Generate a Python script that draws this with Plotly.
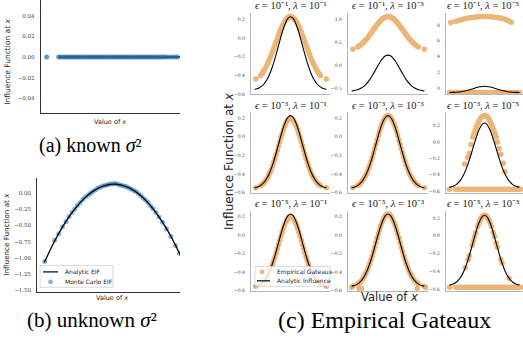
import plotly.graph_objects as go

W, H = 523, 343

# ---------------- data ----------------
# (a) known sigma^2
A_LINE_X = [-2.55, 2.6]
A_LINE_Y = [0.0, 0.0]
A_PTS_X = [-3.05, -2.55, -2.45, -2.35, -2.25, -2.15, -2.05, -1.95, -1.85, -1.75, -1.65, -1.55,
           -1.45, -1.35, -1.25, -1.15, -1.05, -0.95, -0.85, -0.75, -0.65, -0.55, -0.45, -0.35,
           -0.25, -0.15, -0.05, 0.05, 0.15, 0.25, 0.35, 0.45, 0.55, 0.65, 0.75, 0.85, 0.95,
           1.05, 1.15, 1.25, 1.35, 1.45, 1.55, 1.65, 1.75, 1.85, 1.95, 2.1, 2.25, 2.38]
A_PTS_Y = [0.0, 0.0, 0.0, 0.0, 0.0, 0.0, 0.0, 0.0, 0.0, 0.0, 0.0, 0.0, 0.0, 0.0, 0.0, 0.0, 0.0,
           0.0, 0.0, 0.0, 0.0, 0.0, 0.0, 0.0, 0.0, 0.0, 0.0, 0.0, 0.0, 0.0, 0.0, 0.0, 0.0, 0.0,
           0.0, 0.0, 0.0, 0.0, 0.0, 0.0, 0.0, 0.0, 0.0, 0.0, 0.0, 0.0, 0.0, 0.0, 0.0, 0.0]

# (b) unknown sigma^2
B_LINE_X = [-2.32, -2.0, -1.75, -1.5, -1.25, -1.0, -0.75, -0.5, -0.25, 0.0, 0.25, 0.5, 0.75,
            1.0, 1.25, 1.5, 1.75, 2.0, 2.32]
B_LINE_Y = [-1.071, -0.760, -0.549, -0.366, -0.212, -0.085, 0.013, 0.084, 0.126, 0.140, 0.126,
            0.084, 0.013, -0.085, -0.212, -0.366, -0.549, -0.760, -1.071]
B_PTS_X = [-2.31, -1.98, -1.84, -1.72, -1.60, -1.50, -1.40, -1.31, -1.22, -1.13, -1.04, -0.95,
           -0.86, -0.78, -0.70, -0.62, -0.54, -0.46, -0.38, -0.30, -0.22, -0.14, -0.06, 0.02,
           0.10, 0.18, 0.26, 0.34, 0.42, 0.50, 0.58, 0.66, 0.74, 0.82, 0.90, 0.98, 1.06, 1.14,
           1.22, 1.30, 1.40, 1.50, 1.62, 1.75, 1.90, 2.05, 2.18]
B_PTS_Y = [-1.06, -0.73, -0.63, -0.52, -0.44, -0.36, -0.30, -0.25, -0.19, -0.15, -0.10, -0.06,
           -0.03, 0.00, 0.03, 0.05, 0.08, 0.09, 0.11, 0.12, 0.13, 0.14, 0.14, 0.15, 0.14, 0.13,
           0.12, 0.11, 0.10, 0.08, 0.06, 0.04, 0.02, -0.01, -0.04, -0.08, -0.11, -0.15, -0.20,
           -0.24, -0.30, -0.37, -0.45, -0.55, -0.67, -0.81, -0.93]
LEGEND_B = ["Analytic EIF", "Monte Carlo EIF"]

# (c) empirical Gateaux grid
EPS_EXP = ["⁻¹", "⁻³", "⁻⁵"]          # rows
LAM_EXP = ["⁻¹", "⁻³", "⁻⁵"]          # columns
LEGEND_C = ["Empirical Gateaux", "Analytic Influence"]

GRID_X = [-3.0, -2.8, -2.6, -2.4, -2.2, -2.0, -1.8, -1.6, -1.4, -1.2, -1.0, -0.8, -0.6, -0.4,
          -0.2, 0.0, 0.2, 0.4, 0.6, 0.8, 1.0, 1.2, 1.4, 1.6, 1.8, 2.0, 2.2, 2.4, 2.6, 2.8, 3.0]
ANALYTIC_Y = [-0.551, -0.544, -0.533, -0.516, -0.490, -0.453, -0.404, -0.340, -0.264, -0.175,
              -0.081, 0.014, 0.100, 0.169, 0.214, 0.230, 0.214, 0.169, 0.100, 0.014, -0.081,
              -0.175, -0.264, -0.340, -0.404, -0.453, -0.490, -0.516, -0.533, -0.544, -0.551]

BAND_X = [-2.9, -2.5, -2.4, -2.3, -2.2, -2.1, -2.0, -1.9, -1.8, -1.7, -1.6, -1.5, -1.4, -1.3,
          -1.2, -1.1, -1.0, -0.9, -0.8, -0.7, -0.6, -0.5, -0.4, -0.3, -0.2, -0.1, 0.0, 0.1, 0.2,
          0.3, 0.4, 0.5, 0.6, 0.7, 0.8, 0.9, 1.0, 1.1, 1.2, 1.3, 1.4, 1.5, 1.6, 1.7, 1.8, 1.9,
          2.0, 2.1, 2.2, 2.3, 2.4, 2.5, 3.0]
R1C1_Y = [-0.44, -0.401, -0.384, -0.366, -0.345, -0.322, -0.297, -0.270, -0.241, -0.210, -0.178,
          -0.145, -0.110, -0.075, -0.040, -0.004, 0.030, 0.063, 0.095, 0.124, 0.151, 0.174, 0.194,
          0.209, 0.221, 0.228, 0.230, 0.228, 0.221, 0.209, 0.194, 0.174, 0.151, 0.124, 0.095,
          0.063, 0.030, -0.004, -0.040, -0.075, -0.110, -0.145, -0.178, -0.210, -0.241, -0.270,
          -0.297, -0.322, -0.345, -0.366, -0.384, -0.401, -0.44]
R1C2_Y = [0.36, 0.404, 0.422, 0.442, 0.464, 0.488, 0.514, 0.543, 0.573, 0.605, 0.639, 0.675,
          0.711, 0.748, 0.786, 0.823, 0.859, 0.894, 0.927, 0.958, 0.986, 1.011, 1.032, 1.048,
          1.060, 1.068, 1.070, 1.068, 1.060, 1.048, 1.032, 1.011, 0.986, 0.958, 0.927, 0.894,
          0.859, 0.823, 0.786, 0.748, 0.711, 0.675, 0.639, 0.605, 0.573, 0.543, 0.514, 0.488,
          0.464, 0.442, 0.422, 0.404, 0.36]
R1C3_UX = [-2.9, -2.5, -2.3, -2.1, -1.9, -1.7, -1.5, -1.3, -1.1, -0.9, -0.7, -0.5, -0.3, -0.1,
           0.1, 0.3, 0.5, 0.7, 0.9, 1.1, 1.3, 1.5, 1.7, 1.9, 2.1, 2.3]
R1C3_UY = [8.30, 8.42, 8.52, 8.61, 8.69, 8.76, 8.83, 8.88, 8.93, 8.97, 9.00, 9.03, 9.04, 9.05,
           9.05, 9.04, 9.03, 9.00, 8.97, 8.93, 8.88, 8.83, 8.74, 8.62, 8.48, 8.32]
R1C3_LY = [-0.55, -0.55, -0.55, -0.55, -0.55, -0.55, -0.55, -0.55, -0.55, -0.55, -0.55, -0.55,
           -0.55, -0.55, -0.55, -0.55, -0.55, -0.55, -0.55, -0.55, -0.55, -0.55, -0.55, -0.55,
           -0.55, -0.55, -0.55, -0.55, -0.55, -0.55, -0.55]
R2C1_Y = [-0.549, -0.527, -0.517, -0.506, -0.492, -0.476, -0.457, -0.435, -0.410, -0.381, -0.349,
          -0.313, -0.275, -0.234, -0.190, -0.145, -0.099, -0.053, -0.008, 0.035, 0.075, 0.111,
          0.142, 0.167, 0.185, 0.196, 0.200, 0.196, 0.185, 0.167, 0.142, 0.111, 0.075, 0.035,
          -0.008, -0.053, -0.099, -0.145, -0.190, -0.234, -0.275, -0.313, -0.349, -0.381, -0.410,
          -0.435, -0.457, -0.476, -0.492, -0.506, -0.517, -0.527, -0.55]
R2C2_Y = [-0.548, -0.525, -0.516, -0.504, -0.490, -0.473, -0.453, -0.430, -0.404, -0.374, -0.340,
          -0.304, -0.264, -0.221, -0.175, -0.129, -0.081, -0.033, 0.014, 0.058, 0.100, 0.137,
          0.169, 0.195, 0.214, 0.226, 0.230, 0.226, 0.214, 0.195, 0.169, 0.137, 0.100, 0.058,
          0.014, -0.033, -0.081, -0.129, -0.175, -0.221, -0.264, -0.304, -0.340, -0.374, -0.404,
          -0.430, -0.453, -0.473, -0.490, -0.504, -0.516, -0.525, -0.551]
R2C3_UX = [-1.0, -0.9, -0.8, -0.7, -0.6, -0.5, -0.4, -0.3, -0.2, -0.1, 0.0, 0.1, 0.2, 0.3, 0.4,
           0.5, 0.6, 0.7, 0.8, 0.9, 1.0]
R2C3_UY = [0.059, 0.102, 0.143, 0.181, 0.215, 0.246, 0.272, 0.293, 0.308, 0.317, 0.320, 0.317,
           0.308, 0.293, 0.272, 0.246, 0.215, 0.181, 0.143, 0.102, 0.059]
R2C3_SX = [-1.7, -1.45, -1.3, -1.15, 1.1, 1.25, 1.4, 1.6, 1.75]
R2C3_SY = [-0.27, -0.19, -0.14, -0.03, 0.0, -0.08, -0.15, -0.26, -0.36]
LOW_X = [-3.0, -2.5, -2.3, -2.1, -1.9, -1.7, -1.5, -1.3, -1.1, -0.9, -0.7, -0.5, -0.3, -0.1, 0.1,
         0.3, 0.5, 0.7, 0.9, 1.1, 1.3, 1.5, 1.7, 1.9, 2.1, 2.3, 2.5, 2.7, 2.9, 3.1]
R2C3_LY = [-0.575, -0.575, -0.575, -0.575, -0.575, -0.575, -0.575, -0.575, -0.575, -0.575,
           -0.575, -0.575, -0.575, -0.575, -0.575, -0.575, -0.575, -0.575, -0.575, -0.575,
           -0.575, -0.575, -0.575, -0.575, -0.575, -0.575, -0.575, -0.575, -0.575, -0.575]
R3C1_Y = [-0.55, -0.528, -0.518, -0.507, -0.493, -0.477, -0.458, -0.436, -0.411, -0.382, -0.350,
          -0.314, -0.276, -0.235, -0.191, -0.146, -0.100, -0.054, -0.009, 0.034, 0.074, 0.110,
          0.141, 0.166, 0.184, 0.195, 0.199, 0.195, 0.184, 0.166, 0.141, 0.110, 0.074, 0.034,
          -0.009, -0.054, -0.100, -0.146, -0.191, -0.235, -0.276, -0.314, -0.350, -0.382, -0.411,
          -0.436, -0.458, -0.477, -0.493, -0.507, -0.518, -0.528, -0.55]
R3C2_Y = [-0.548, -0.525, -0.516, -0.504, -0.490, -0.473, -0.453, -0.430, -0.404, -0.374, -0.340,
          -0.304, -0.264, -0.221, -0.175, -0.129, -0.081, -0.033, 0.014, 0.058, 0.100, 0.137,
          0.169, 0.195, 0.214, 0.226, 0.230, 0.226, 0.214, 0.195, 0.169, 0.137, 0.100, 0.058,
          0.014, -0.033, -0.081, -0.129, -0.175, -0.221, -0.264, -0.304, -0.340, -0.374, -0.404,
          -0.430, -0.453, -0.473, -0.490, -0.504, -0.516, -0.525, -0.551]
R3C2_LX = [-3.0, -2.4, -2.3, -2.2, 2.4, 3.1]
R3C2_LY = [-0.565, -0.575, -0.575, -0.575, -0.575, -0.565]
R3C3_SX = [-1.65, -1.4, -1.3, -1.05, -0.95, -0.85, -0.75, -0.6, -0.5, -0.4, -0.3, -0.2, -0.1, 0.0,
           0.1, 0.2, 0.3, 0.4, 0.5, 0.6, 0.75, 0.85, 1.0, 1.1, 1.4, 1.5, 2.1]
R3C3_SY = [-0.357, -0.264, -0.220, -0.105, -0.057, -0.009, 0.036, 0.100, 0.137, 0.169, 0.195,
           0.214, 0.226, 0.230, 0.226, 0.214, 0.195, 0.169, 0.137, 0.100, 0.036, -0.009, -0.081,
           -0.129, -0.264, -0.303, -0.473]
R3C3_LY = R2C3_LY

# y ranges
Y_RANGES = [[-0.605, 0.265], [-0.63, 1.14], [-0.8, 9.45],
            [-0.605, 0.265], [-0.605, 0.265], [-0.62, 0.36],
            [-0.605, 0.265], [-0.605, 0.265], [-0.62, 0.28]]
Y_TICKS = [[-0.6, -0.4, -0.2, 0.0, 0.2], [-0.5, 0.0, 0.5, 1.0], [0, 2, 4, 6, 8],
           [-0.6, -0.4, -0.2, 0.0, 0.2], [-0.6, -0.4, -0.2, 0.0, 0.2], [-0.6, -0.4, -0.2, 0.0, 0.2],
           [-0.6, -0.4, -0.2, 0.0, 0.2], [-0.6, -0.4, -0.2, 0.0, 0.2], [-0.6, -0.4, -0.2, 0.0, 0.2]]
Y_FMT = [".1f", ".1f", "d", ".1f", ".1f", ".1f", ".1f", ".1f", ".1f"]

# ---------------- styling ----------------
ORANGE = "#EAA85E"
ORANGE_LEG = "rgba(234,168,94,0.85)"
BLUE = "rgba(31,119,180,0.55)"
BLUE_A = "rgba(31,105,165,0.7)"
SERIF = "DejaVu Serif"
CAPTION = "Liberation Serif"
SANS = "DejaVu Sans"
TICKCOL = "#444444"

def dx(x0, x1):
    return [x0 / W, x1 / W]

def dy(y0, y1):
    return [1 - y1 / H, 1 - y0 / H]

fig = go.Figure()

# ---- panel (a)
fig.add_trace(go.Scatter(x=A_LINE_X, y=A_LINE_Y, mode="lines", line=dict(color="black", width=1.5),
                         xaxis="x", yaxis="y", showlegend=False))
fig.add_trace(go.Scatter(x=A_PTS_X, y=A_PTS_Y, mode="markers",
                         marker=dict(color=BLUE_A, size=5, line=dict(width=0)),
                         xaxis="x", yaxis="y", showlegend=False))
# ---- panel (b)
fig.add_trace(go.Scatter(x=B_PTS_X, y=B_PTS_Y, mode="markers",
                         marker=dict(color=BLUE, size=5, line=dict(width=0)),
                         xaxis="x2", yaxis="y2", name=LEGEND_B[1], showlegend=False))
fig.add_trace(go.Scatter(x=B_LINE_X, y=B_LINE_Y, mode="lines", line=dict(color="black", width=1.3, shape="spline"),
                         xaxis="x2", yaxis="y2", name=LEGEND_B[0], showlegend=False))

# ---- grid (c)
panels = [
    [(BAND_X, R1C1_Y)],
    [(BAND_X, R1C2_Y)],
    [(R1C3_UX, R1C3_UY), (GRID_X, R1C3_LY)],
    [(BAND_X, R2C1_Y)],
    [(BAND_X, R2C2_Y)],
    [(R2C3_UX, R2C3_UY), (R2C3_SX, R2C3_SY), (LOW_X, R2C3_LY)],
    [(BAND_X, R3C1_Y)],
    [(BAND_X, R3C2_Y), (R3C2_LX, R3C2_LY)],
    [(R3C3_SX, R3C3_SY), (LOW_X, R3C3_LY)],
]
for i, series in enumerate(panels):
    xa, ya = "x%d" % (i + 3), "y%d" % (i + 3)
    for sx, sy in series:
        fig.add_trace(go.Scatter(x=sx, y=sy, mode="markers", name=LEGEND_C[0], opacity=0.85,
                                 marker=dict(color=ORANGE, size=5.5, line=dict(width=0)),
                                 xaxis=xa, yaxis=ya, showlegend=False))
    fig.add_trace(go.Scatter(x=GRID_X, y=ANALYTIC_Y, mode="lines", name=LEGEND_C[1],
                             line=dict(color="black", width=1.1, shape="spline"),
                             xaxis=xa, yaxis=ya, showlegend=False))

base_ax = dict(showgrid=False, zeroline=False, showline=True, ticks="", mirror=False)
layout = dict(
    width=W, height=H, margin=dict(l=0, r=0, t=0, b=0),
    plot_bgcolor="white", paper_bgcolor="white", showlegend=False,
    xaxis=dict(base_ax, domain=dx(40.7, 180), range=[-3.3, 2.5], showticklabels=False,
               linecolor="#333", linewidth=1.2, anchor="y"),
    yaxis=dict(base_ax, domain=dy(0, 113.3), range=[-0.0538, 0.0551], anchor="x",
               linecolor="#333", linewidth=1.2,
               tickvals=[-0.04, -0.02, 0.0, 0.02, 0.04], tickformat=".2f",
               tickfont=dict(family=SERIF, size=5.5, color=TICKCOL), ticklabelstandoff=4),
    xaxis2=dict(base_ax, domain=dx(37.3, 180), range=[-2.557, 2.2], showticklabels=False,
                linecolor="#333", linewidth=1.2, anchor="y2"),
    yaxis2=dict(base_ax, domain=dy(179.3, 293.3), range=[-1.525, 0.231], anchor="x2",
                linecolor="#333", linewidth=1.2,
                tickvals=[-1.5, -1.25, -1.0, -0.75, -0.5, -0.25, 0.0], tickformat=".2f",
                tickfont=dict(family=SERIF, size=5.5, color=TICKCOL), ticklabelstandoff=4),
)
COLS = [(251, 330), (348, 428), (446, 523)]
ROWS = [(13.5, 95), (113, 194), (212, 293)]
for i in range(9):
    r, c = divmod(i, 3)
    n = i + 3
    layout["xaxis%d" % n] = dict(base_ax, domain=dx(*COLS[c]), range=[-3.3, 3.3],
                                 showticklabels=False, linecolor="#b5b5b5", linewidth=1.2,
                                 anchor="y%d" % n)
    layout["yaxis%d" % n] = dict(base_ax, domain=dy(*ROWS[r]), range=Y_RANGES[i],
                                 tickvals=Y_TICKS[i], tickformat=Y_FMT[i],
                                 linecolor="#b5b5b5", linewidth=1.2, anchor="x%d" % n,
                                 tickfont=dict(family=SERIF, size=4.6, color=TICKCOL),
                                 ticklabelstandoff=4)
fig.update_layout(**layout)

ann = []
def text(x, y, s, size, family=SANS, angle=0, color="#222", xanchor="center"):
    ann.append(dict(x=x / W, y=1 - y / H, xref="paper", yref="paper", text=s, showarrow=False,
                    font=dict(family=family, size=size, color=color), textangle=angle,
                    xanchor=xanchor, yanchor="middle"))

XL = "<i>x</i>"
# panel (a)/(b) labels
text(8, 62, "Influence Function at " + XL, 7.5, angle=-90)
text(110, 123, "Value of " + XL, 6.5)
text(90, 146, "(a) known <i>σ</i>²", 20, family=CAPTION, color="black")
text(7, 236, "Influence Function at " + XL, 7.2, angle=-90)
text(112, 300, "Value of " + XL, 6.5)
text(92, 322, "(b) unknown <i>σ</i>²", 21, family=CAPTION, color="black")
# grid titles
ROW_TITLE_Y = [6, 106, 205]
TITLE_CX = [290.5, 388, 483]
for r in range(3):
    for c in range(3):
        text(TITLE_CX[c], ROW_TITLE_Y[r],
             "<i>ϵ</i> = 10%s, <i>λ</i> = 10%s" % (EPS_EXP[r], LAM_EXP[c]),
             10.5, family=CAPTION)
text(229, 162, "Influence Function at " + XL, 12, angle=-90)
text(389, 299, "Value of " + XL, 11.5)
text(384, 322, "(c) Empirical Gateaux", 24, family=CAPTION, color="black")

# manual legends
shapes = []
def box(x0, y0, x1, y1):
    shapes.append(dict(type="rect", xref="paper", yref="paper", x0=x0 / W, x1=x1 / W,
                       y0=1 - y1 / H, y1=1 - y0 / H, line=dict(color="#d0d0d0", width=0.8),
                       fillcolor="rgba(255,255,255,0.85)", layer="above"))
def lsample(x0, x1, y):
    shapes.append(dict(type="line", xref="paper", yref="paper", x0=x0 / W, x1=x1 / W,
                       y0=1 - y / H, y1=1 - y / H, line=dict(color="black", width=1.2), layer="above"))
def msample(x, y, col, r=2.4):
    shapes.append(dict(type="circle", xref="paper", yref="paper", x0=(x - r) / W, x1=(x + r) / W,
                       y0=1 - (y + r) / H, y1=1 - (y - r) / H, line=dict(width=0),
                       fillcolor=col, layer="above"))

box(40, 267, 113, 289)
lsample(43, 58, 273.5)
msample(50.5, 283.5, BLUE)
text(63, 273.5, LEGEND_B[0], 6, xanchor="left")
text(63, 283.5, LEGEND_B[1], 6, xanchor="left")

box(255, 268, 330, 288)
msample(262, 273.5, ORANGE_LEG)
lsample(257, 270, 282.5)
text(275, 273.5, LEGEND_C[0], 6, xanchor="left")
text(275, 282.5, LEGEND_C[1], 6, xanchor="left")

fig.update_layout(annotations=ann, shapes=shapes)
fig.write_html("out.html")
